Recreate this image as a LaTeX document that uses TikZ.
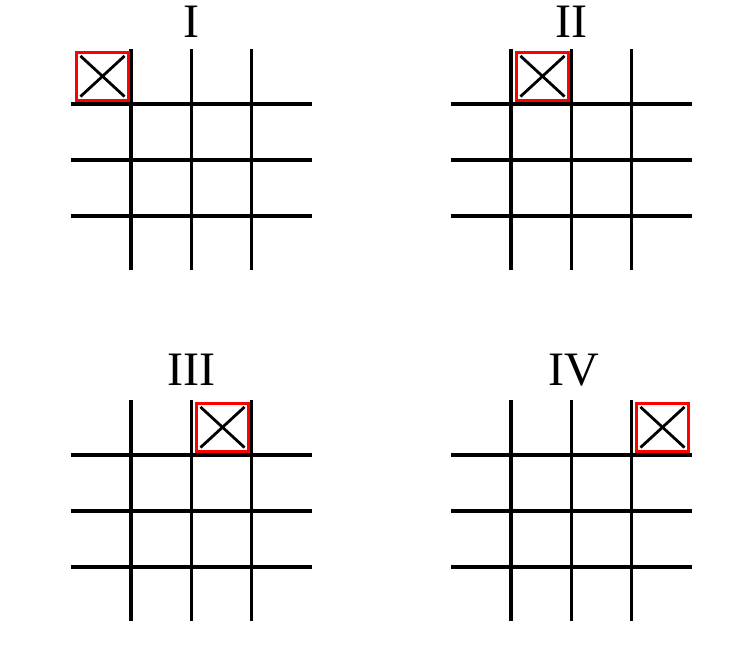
\documentclass[tikz,border=0pt]{standalone}
\usepackage{fontspec}
\setmainfont{Liberation Serif}
\tikzset{
  gridline/.style={line width=3.4pt, black},
  markbox/.style={draw=red, line width=2.6pt, minimum width=52.5pt, minimum height=47.5pt, inner sep=0pt, fill=white},
  crossline/.style={line width=2.8pt, black},
  panellabel/.style={font=\fontsize{48}{48}\selectfont, anchor=base, inner sep=0pt}
}
\begin{document}
\begin{tikzpicture}[x=1pt,y=-1pt]
\useasboundingbox (0,0) rectangle (755,655);
\foreach \ox/\oy/\col/\lab/\nm/\base/\lx in {71/49/0/I/a/38/120.5, 451/49/1/II/b/38/120.5, 71/400/2/III/c/385/120.5, 451/400/3/IV/d/385/122.5}{
  % grid lines
  \foreach \dx in {60,120.5,180.5}{
    \draw[gridline] ({\ox+\dx},\oy) -- ({\ox+\dx},{\oy+221});
  }
  \foreach \dy in {55,111,167}{
    \draw[gridline] (\ox,{\oy+\dy}) -- ({\ox+241},{\oy+\dy});
  }
  % label
  \node[panellabel] (lab\nm) at ({\ox+\lx},\base) {\lab};
  % marked box
  \node[markbox] (box\nm) at ({\ox+60*\col+31.5},{\oy+27.5}) {};
  \draw[crossline] ([xshift=5.5pt,yshift=-4.5pt]box\nm.north west) -- ([xshift=-5.5pt,yshift=5pt]box\nm.south east);
  \draw[crossline] ([xshift=-5.5pt,yshift=-4.5pt]box\nm.north east) -- ([xshift=5.5pt,yshift=5pt]box\nm.south west);
}
\end{tikzpicture}
\end{document}
